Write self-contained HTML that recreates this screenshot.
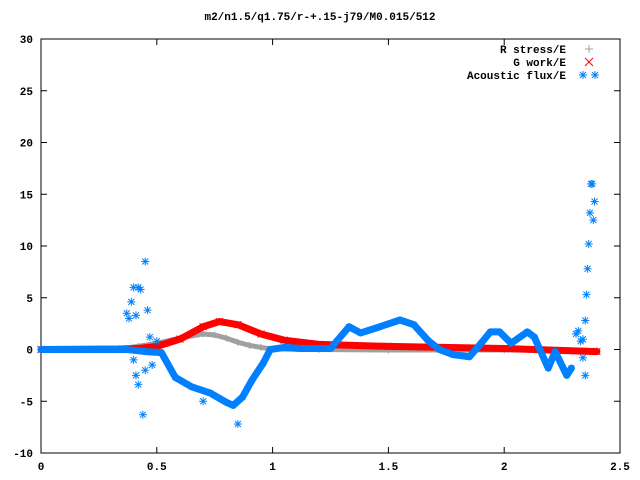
<!DOCTYPE html>
<html><head><meta charset="utf-8"><style>
html,body{margin:0;padding:0;background:#fff;}
svg{display:block;}
text{font-family:"Liberation Mono",monospace;font-size:11px;font-weight:bold;fill:#000;}
</style></head><body>
<svg id="chart" width="640" height="480" viewBox="0 0 640 480">
<text x="320" y="20" text-anchor="middle">m2/n1.5/q1.75/r-+.15-j79/M0.015/512</text>
<g id="axes"></g>
<g id="series"></g>
<g>
<text x="566" y="53" text-anchor="end">R stress/E</text>
<text x="566" y="66" text-anchor="end">G work/E</text>
<text x="566" y="79" text-anchor="end">Acoustic flux/E</text>
<g id="legmarks"></g>
</g>
</svg>
<script>
const xTicks=[0,0.5,1,1.5,2,2.5];
const xTickLabels=["0","0.5","1","1.5","2","2.5"];
const yTicks=[-10,-5,0,5,10,15,20,25,30];
const yTickLabels=["-10","-5","0","5","10","15","20","25","30"];
const rStressX=[0,0.35,0.42,0.5,0.6,0.7,0.75,0.8,0.85,0.9,0.95,1.0,1.2,1.5,2.0,2.4];
const rStressY=[0,0.1,0.3,0.6,1.1,1.5,1.4,1.1,0.7,0.4,0.2,0.05,0,-0.05,-0.05,-0.1];
const gWorkX=[0,0.35,0.42,0.5,0.6,0.7,0.77,0.85,0.95,1.05,1.2,1.5,2.0,2.4];
const gWorkY=[0,0.05,0.1,0.3,1.0,2.2,2.7,2.4,1.5,0.9,0.5,0.3,0.1,-0.2];
const fluxX=[0,0.37,0.45,0.52,0.58,0.65,0.73,0.80,0.83,0.87,0.91,0.96,0.99,1.05,1.12,1.25,1.33,1.38,1.45,1.55,1.61,1.67,1.72,1.78,1.85,1.90,1.94,1.98,2.03,2.10,2.13,2.19,2.22,2.27,2.29];
const fluxY=[0,0,-0.2,-0.3,-2.7,-3.6,-4.2,-5.1,-5.4,-4.6,-3.0,-1.3,0,0.2,0.1,0.1,2.2,1.6,2.1,2.85,2.4,0.9,0,-0.5,-0.7,0.6,1.7,1.7,0.6,1.7,1.2,-1.8,-0.2,-2.5,-1.8];
const fluxScatterX=[0.37,0.38,0.39,0.40,0.41,0.42,0.43,0.44,0.45,0.46,0.47,0.40,0.41,0.42,0.45,0.48,0.70,0.85,0.50,2.31,2.32,2.33,2.34,2.35,2.355,2.36,2.365,2.37,2.375,2.38,2.385,2.39,2.34,2.35];
const fluxScatterY=[3.5,3,4.6,6,3.3,6,5.8,-6.3,8.5,3.8,1.2,-1,-2.5,-3.4,-2,-1.5,-5,-7.2,0.8,1.5,1.8,0.8,1,2.8,5.3,7.8,10.2,13.2,16,16,12.5,14.3,-0.8,-2.5];

const L=41,R=620,T=39,B=453;
const sx=v=>L+(v-0)/2.5*(R-L);
const sy=v=>B-(v+10)/40*(B-T);
const NS="http://www.w3.org/2000/svg";
function mk(tag,attrs,parent){const e=document.createElementNS(NS,tag);for(const k in attrs)e.setAttribute(k,attrs[k]);parent.appendChild(e);return e;}
const axes=document.getElementById('axes');
const frame=mk('rect',{x:L,y:T,width:R-L,height:B-T,fill:'none',stroke:'#000','stroke-width':1},axes);


xTicks.forEach((v,i)=>{
  const x=sx(v);
  mk('line',{x1:x,y1:B,x2:x,y2:B-6,stroke:'#000'},axes);
  mk('line',{x1:x,y1:T,x2:x,y2:T+6,stroke:'#000'},axes);
  const t=mk('text',{x:x,y:B+17,'text-anchor':'middle'},axes);
  t.textContent=xTickLabels[i];
  
  
});
yTicks.forEach((v,i)=>{
  const y=sy(v);
  mk('line',{x1:L,y1:y,x2:L+6,y2:y,stroke:'#000'},axes);
  mk('line',{x1:R,y1:y,x2:R-6,y2:y,stroke:'#000'},axes);
  const t=mk('text',{x:L-8,y:y+4,'text-anchor':'end'},axes);
  t.textContent=yTickLabels[i];
  
  
});
const ser=document.getElementById('series');
function marker(g,kind,x,y,color,s){
  if(kind==='plus'||kind==='star'){mk('line',{x1:x-s,y1:y,x2:x+s,y2:y,stroke:color},g);mk('line',{x1:x,y1:y-s,x2:x,y2:y+s,stroke:color},g);}
  if(kind==='cross'||kind==='star'){const d=kind==='star'?s*0.75:s;mk('line',{x1:x-d,y1:y-d,x2:x+d,y2:y+d,stroke:color},g);mk('line',{x1:x-d,y1:y+d,x2:x+d,y2:y-d,stroke:color},g);}
}
function series(name,xs,ys,color,kind,w){
  const g=mk('g',{},ser);
  
  
  const pts=xs.map((v,i)=>sx(v)+','+sy(ys[i])).join(' ');
  mk('polyline',{points:pts,fill:'none',stroke:color,'stroke-width':w,'stroke-linejoin':'round','stroke-linecap':'round'},g);
  xs.forEach((v,i)=>marker(g,kind,sx(v),sy(ys[i]),color,3.5));
}
series('r-stress-series',rStressX,rStressY,'#a0a0a0','plus',5);
series('g-work-series',gWorkX,gWorkY,'#ff0000','cross',7);
series('acoustic-flux-series',fluxX,fluxY,'#0080ff','star',7);
const sc=mk('g',{},ser);


fluxScatterX.forEach((v,i)=>marker(sc,'star',sx(v),sy(fluxScatterY[i]),'#0080ff',4));
const lm=document.getElementById('legmarks');
marker(lm,'plus',589,49,'#a0a0a0',4);
marker(lm,'cross',589,62,'#ff0000',4);
marker(lm,'star',583,75,'#0080ff',4);
marker(lm,'star',595,75,'#0080ff',4);
</script>
</body></html>
